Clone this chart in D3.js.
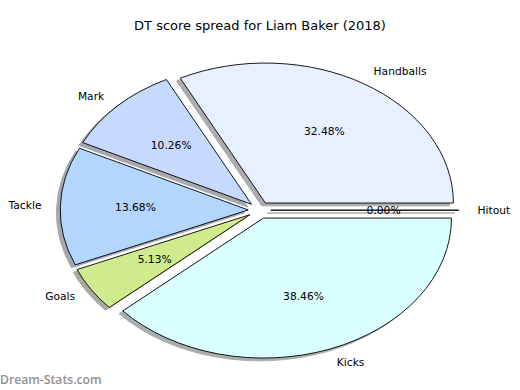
<!DOCTYPE html>
<html><head><meta charset="utf-8">
<script src="https://cdn.jsdelivr.net/npm/d3@7"></script>
<style>body{margin:0;background:#fff}svg{display:block}</style>
</head><body>
<script>
const categories = ["Handballs","Mark","Tackle","Goals","Kicks","Hitout"];
const values = [38,12,16,6,45,0];
const colors = ["#e8f0ff","#c6d9ff","#b3d6ff","#d0eb8b","#d9ffff","#f0f0f0"];
const title = "DT score spread for Liam Baker (2018)";

const W=520,H=390;
const svg=d3.select("body").append("svg").attr("width",W).attr("height",H);
// data coordinates: unit circle, mapped to an ellipse on screen
const x=d3.scaleLinear().domain([-1,1]).range([259.5-188,259.5+188]);
const y=d3.scaleLinear().domain([-1,1]).range([210.2+140,210.2-140]);
const explode=0.06, labelDist=1.1, pctDist=0.6, shOff=-0.02;

const total=d3.sum(values);
const pie=d3.pie().sort(null).value(d=>d).startAngle(0).endAngle(2*Math.PI);
const arcs=pie(values);

function wedgePath(a0,a1,ox,oy){
  const cxp=x(ox), cyp=y(oy);
  const rx=x(1)-x(0), ry=y(0)-y(1);
  const p0=[x(ox+Math.cos(a0)),y(oy+Math.sin(a0))];
  const p1=[x(ox+Math.cos(a1)),y(oy+Math.sin(a1))];
  const large=(a1-a0)>Math.PI?1:0;
  if(a1-a0<1e-9) return `M${cxp},${cyp}L${p0[0]},${p0[1]}Z`;
  return `M${cxp},${cyp}L${p0[0]},${p0[1]}A${rx},${ry} 0 ${large} 0 ${p1[0]},${p1[1]}Z`;
}
const info=arcs.map((a,i)=>{
  const m=(a.startAngle+a.endAngle)/2;
  return {a,i,m,ox:explode*Math.cos(m),oy:explode*Math.sin(m)};
});
// shadows
const shade=c=>{const r=d3.rgb(c);return d3.rgb(r.r*0.3,r.g*0.3,r.b*0.3).toString();};
svg.append("g").selectAll("path").data(info).join("path")
  .attr("d",d=>wedgePath(d.a.startAngle,d.a.endAngle,d.ox+shOff,d.oy+shOff))
  .attr("fill",d=>shade(colors[d.i])).attr("stroke",d=>shade(colors[d.i]))
  .attr("stroke-width",1).attr("opacity",0.45);
// wedges
svg.append("g").selectAll("path").data(info).join("path")
  .attr("d",d=>wedgePath(d.a.startAngle,d.a.endAngle,d.ox,d.oy))
  .attr("fill",d=>colors[d.i]).attr("stroke","#000").attr("stroke-width",0.9)
  .attr("stroke-linejoin","miter");
// labels
const font="DejaVu Sans";
svg.append("g").selectAll("text").data(info).join("text")
  .attr("x",d=>x(d.ox+labelDist*Math.cos(d.m)))
  .attr("y",d=>y(d.oy+labelDist*Math.sin(d.m)))
  .attr("text-anchor",d=>Math.cos(d.m)<0?"end":"start")
  .attr("dominant-baseline","central")
  .attr("font-family",font).attr("font-size",10.7).attr("fill","#000")
  .text(d=>categories[d.i]);
svg.append("g").selectAll("text").data(info).join("text")
  .attr("x",d=>x(d.ox+pctDist*Math.cos(d.m)))
  .attr("y",d=>y(d.oy+pctDist*Math.sin(d.m)))
  .attr("text-anchor","middle").attr("dominant-baseline","central")
  .attr("font-family",font).attr("font-size",10.7).attr("fill","#000")
  .text(d=>(100*values[d.i]/total).toFixed(2)+"%");
svg.append("text").attr("x",260).attr("y",30).attr("text-anchor","middle")
  .attr("font-family",font).attr("font-size",13).text(title);
svg.append("text").attr("x",0).attr("y",384).attr("font-family","Open Sans")
  .attr("font-weight",600).attr("font-size",12.2).attr("fill","#909090").text("Dream-Stats.com");
</script>
</body></html>
